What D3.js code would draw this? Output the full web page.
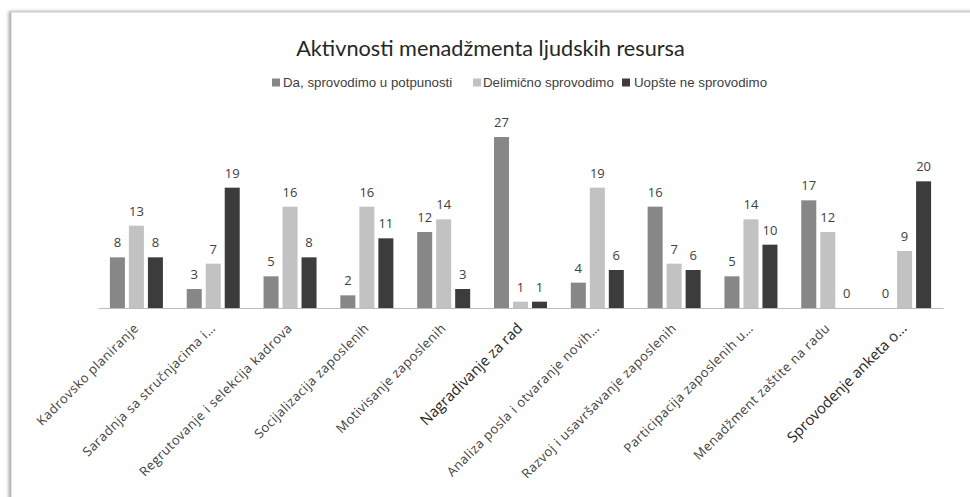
<!DOCTYPE html>
<html>
<head>
<meta charset="utf-8">
<script src="https://cdn.jsdelivr.net/npm/d3@7"></script>
<style>
  html, body { margin: 0; padding: 0; background: #ffffff; overflow: hidden; }
  svg { display: block; }
</style>
</head>
<body>
<svg id="chart" width="970" height="497"></svg>
<script>
// Activities of HR management: counts per answer category
const categories = [
  "Kadrovsko planiranje",
  "Saradnja sa stručnjacima i…",
  "Regrutovanje i selekcija kadrova",
  "Socijalizacija zaposlenih",
  "Motivisanje zaposlenih",
  "Nagradivanje za rad",
  "Analiza posla i otvaranje novih…",
  "Razvoj i usavršavanje zaposlenih",
  "Participacija zaposlenih u…",
  "Menadžment zaštite na radu",
  "Sprovodenje anketa o…"
];
const seriesNames = ["Da, sprovodimo u potpunosti", "Delimično sprovodimo", "Uopšte ne sprovodimo"];
const fullyDone   = [8, 3, 5, 2, 12, 27, 4, 16, 5, 17, 0];
const partlyDone  = [13, 7, 16, 16, 14, 1, 19, 7, 14, 12, 9];
const notDone     = [8, 19, 8, 11, 3, 1, 6, 6, 10, 0, 20];
const seriesValues = [fullyDone, partlyDone, notDone];
const seriesColors = ["#878787", "#c2c2c2", "#3c3c3c"];
// labels drawn in a larger, darker face
const emphasized = new Set(["Nagradivanje za rad", "Sprovodenje anketa o…"]);

const svg = d3.select("#chart");

// card with soft shadow on the left
const defs = svg.append("defs");
const f = defs.append("filter").attr("id", "shadow").attr("x", "-5%").attr("y", "-5%").attr("width", "110%").attr("height", "110%");
f.append("feGaussianBlur").attr("stdDeviation", 1.4);
svg.append("rect").attr("x", 8.5).attr("y", 11).attr("width", 975).attr("height", 495)
  .attr("fill", "#b0b0b0").attr("filter", "url(#shadow)");
svg.append("rect").attr("x", 11.5).attr("y", 12.5).attr("width", 975).attr("height", 490)
  .attr("fill", "#ffffff").attr("stroke", "#e6e6e6").attr("stroke-width", 1);

const baseY = 308;
const x0 = d3.scaleBand().domain(categories).range([98, 943]).padding(0);
const x1 = d3.scaleBand().domain(d3.range(seriesNames.length)).range([0, 53]).paddingInner(0.21);
const y = d3.scaleLinear().domain([0, 30]).range([baseY, 118]);

// title
svg.append("text")
  .attr("x", 490.5).attr("y", 56)
  .attr("text-anchor", "middle")
  .attr("font-family", "Lato, 'Open Sans', sans-serif")
  .attr("font-size", 21.7)
  .attr("fill", "#262626")
  .text("Aktivnosti menadžmenta ljudskih resursa");

// legend
const legendX = [272, 473, 622];
const legendTextX = [283, 483, 634];
const legend = svg.append("g").attr("font-family", "'Liberation Sans', Arial, sans-serif")
  .attr("font-size", 13.3).attr("fill", "#404040");
seriesNames.forEach((name, i) => {
  legend.append("rect").attr("x", legendX[i]).attr("y", 78.5).attr("width", 8).attr("height", 8)
    .attr("fill", seriesColors[i]);
  legend.append("text").attr("x", legendTextX[i]).attr("y", 87).text(name);
});

// bars
const groups = svg.append("g").selectAll("g")
  .data(categories)
  .join("g")
  .attr("transform", d => `translate(${x0(d) + x0.bandwidth() / 2 - 26.5},0)`);

groups.each(function(cat, ci) {
  const g = d3.select(this);
  seriesValues.forEach((vals, si) => {
    const v = vals[ci];
    if (v > 0) {
      g.append("rect")
        .attr("x", x1(si)).attr("width", x1.bandwidth())
        .attr("y", y(v)).attr("height", baseY - y(v))
        .attr("fill", seriesColors[si]);
    }
    g.append("text")
      .attr("x", x1(si) + x1.bandwidth() / 2)
      .attr("y", y(v) - 10)
      .attr("text-anchor", "middle")
      .attr("font-family", "'Open Sans', sans-serif")
      .attr("font-size", 13)
      .attr("fill", "#404040")
      .text(v);
  });
});

// category axis
const axis = svg.append("g").attr("transform", `translate(0,${baseY})`)
  .call(d3.axisBottom(x0).tickSize(0).tickPadding(0));
axis.select(".domain").attr("stroke", "#bcbcbc").attr("stroke-width", 1.2);
axis.selectAll(".tick text")
  .attr("font-family", "'Open Sans', sans-serif")
  .attr("font-size", d => emphasized.has(d) ? 14.8 : 13)
  .attr("letter-spacing", d => emphasized.has(d) ? 0 : 0.5)
  .attr("fill", d => emphasized.has(d) ? "#262626" : "#404040")
  .attr("text-anchor", "end")
  .attr("dy", 0).attr("y", 0)
  .attr("transform", "translate(3,21) rotate(-45)");
</script>
</body>
</html>
